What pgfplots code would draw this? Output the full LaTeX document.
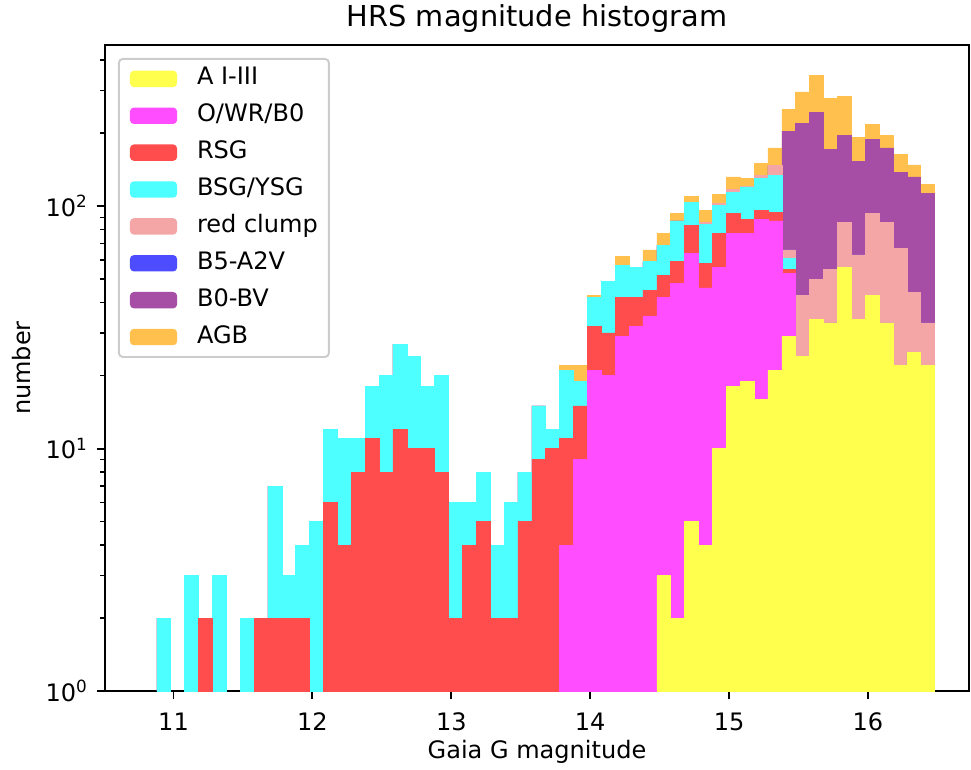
\documentclass[border=0pt]{standalone}
\usepackage{fontspec}
\setmainfont{DejaVu Sans}
\usepackage{pgfplots}
\usepackage{pgfplotstable}
\pgfplotsset{compat=1.18}

% fill colours: base colours seen through alpha 0.7 on white
\definecolor{cY}{RGB}{255,255,77}
\definecolor{cM}{RGB}{255,77,255}
\definecolor{cR}{RGB}{255,77,77}
\definecolor{cC}{RGB}{77,255,255}
\definecolor{cP}{RGB}{244,166,166}
\definecolor{cB}{RGB}{77,77,255}
\definecolor{cV}{RGB}{166,77,166}
\definecolor{cG}{RGB}{255,192,77}
\definecolor{frame}{RGB}{204,204,204}

% counts per 0.1 mag bin (x = bin centre)
% Y: A I-III, M: O/WR/B0, R: RSG, C: BSG/YSG, P: red clump,
% B: B5-A2V, V: B0-BV, G: AGB
\pgfplotstableread{
x     Y  M  R  C  P  B  V   G
10.93 0  0  0  2  0  0  0   0
11.03 0  0  0  0  0  0  0   0
11.13 0  0  0  3  0  0  0   0
11.23 0  0  2  0  0  0  0   0
11.33 0  0  0  3  0  0  0   0
11.43 0  0  0  0  0  0  0   0
11.53 0  0  0  2  0  0  0   0
11.63 0  0  2  0  0  0  0   0
11.73 0  0  2  5  0  0  0   0
11.83 0  0  2  1  0  0  0   0
11.93 0  0  2  2  0  0  0   0
12.03 0  0  0  5  0  0  0   0
12.13 0  0  6  6  0  0  0   0
12.23 0  0  4  7  0  0  0   0
12.33 0  0  8  3  0  0  0   0
12.43 0  0  11 7  0  0  0   0
12.53 0  0  8  12 0  0  0   0
12.63 0  0  12 15 0  0  0   0
12.73 0  0  10 14 0  0  0   0
12.83 0  0  10 8  0  0  0   0
12.93 0  0  8  12 0  0  0   0
13.03 0  0  2  4  0  0  0   0
13.13 0  0  4  2  0  0  0   0
13.23 0  0  5  3  0  0  0   0
13.33 0  0  2  2  0  0  0   0
13.43 0  0  2  4  0  0  0   0
13.53 0  0  5  3  0  0  0   0
13.63 0  0  9  6  0  0  0   0
13.73 0  0  10 2  0  0  0   0
13.83 0  4  7  10 0  0  0   1
13.93 0  9  6  4  0  0  0   3
14.03 0  21 11 10 0  0  0   1
14.13 0  20 10 19 0  0  0   0
14.23 0  29 13 15 0  0  0   5
14.33 0  32 10 14 0  0  0   0
14.43 0  35 10 14 0  0  0   7
14.53 3  39 10 17 0  0  0   8
14.63 2  46 11 28 0  0  0   6
14.73 5  59 19 21 0  0  0   6
14.83 4  42 12 26 2  0  0   10
14.93 10 46 21 24 2  0  0   9
15.03 18 59 16 21 3  0  0   15
15.13 19 58 11 32 1  0  0   9
15.23 16 72 8  34 4  0  0   16
15.33 21 66 7  40 13 0  0   27
15.43 29 24 2  6  5  0  137 48
15.53 24 0  0  0  19 0  177 76
15.63 34 0  0  0  16 0  193 102
15.73 33 0  0  0  22 0  117 106
15.83 56 0  0  0  30 0  110 87
15.93 34 0  0  0  29 0  90  39
16.03 43 0  0  0  50 0  96  28
16.13 33 0  0  0  53 0  88  22
16.23 22 0  0  0  45 0  71  25
16.33 25 0  0  0  19 0  88  16
16.43 22 0  0  0  11 0  80  10
}\counts

% running totals for the stacked histogram
\pgfplotstablecreatecol[create col/expr={\thisrow{Y}}]{sY}\counts
\pgfplotstablecreatecol[create col/expr={\thisrow{sY}+\thisrow{M}}]{sM}\counts
\pgfplotstablecreatecol[create col/expr={\thisrow{sM}+\thisrow{R}}]{sR}\counts
\pgfplotstablecreatecol[create col/expr={\thisrow{sR}+\thisrow{C}}]{sC}\counts
\pgfplotstablecreatecol[create col/expr={\thisrow{sC}+\thisrow{P}}]{sP}\counts
\pgfplotstablecreatecol[create col/expr={\thisrow{sP}+\thisrow{B}}]{sB}\counts
\pgfplotstablecreatecol[create col/expr={\thisrow{sB}+\thisrow{V}}]{sV}\counts
\pgfplotstablecreatecol[create col/expr={\thisrow{sV}+\thisrow{G}}]{sG}\counts

\begin{document}
\begin{tikzpicture}
\useasboundingbox (-43.70pt,-32.46pt) rectangle (360.43pt,287.63pt);
\begin{axis}[
  at={(0,0)}, anchor=south west,
  scale only axis, width=359.6pt, height=268.9pt,
  ymode=log, log origin y=infty,
  xmin=10.5065, xmax=16.728, ymin=1, ymax=462,
  xtick={11,12,13,14,15,16},
  ytick={1,10,100},
  yticklabels={10\textsuperscript{0},10\textsuperscript{1},10\textsuperscript{2}},
  minor ytick={2,3,4,5,6,7,8,9,20,30,40,50,60,70,80,90,200,300,400},
  tick pos=left, tick align=outside,
  major tick length=3.5pt, minor tick length=2pt,
  every tick/.style={black, line width=0.8pt},
  every minor tick/.style={black, line width=0.6pt},
  axis line style={line width=0.8pt},
  /pgf/number format/assume math mode=true,
  tick label style={font=\fontsize{10}{12}\selectfont},
  xticklabel style={yshift=-2pt},
  label style={font=\fontsize{10}{12}\selectfont},
  xlabel={Gaia G magnitude}, ylabel={number},
  xlabel style={at={(axis description cs:0.5,-0.1040)}, anchor=base},
  ylabel style={at={(axis description cs:-0.0961,0.5)}, anchor=center},
  title={HRS magnitude histogram},
  every axis title/.style={at={(axis description cs:0.5,1.0279)}, anchor=base,
    font=\fontsize{12}{14}\selectfont},
  bars/.style={ybar, bar width=0.1, bar shift=0pt, line width=0.25pt, forget plot},
  legend image code/.code={\fill[#1, fill opacity=1] (0pt,-3.4pt) rectangle (19.6pt,3.4pt);},
  legend cell align=left,
  legend style={at={(axis description cs:0,1)}, anchor=north west,
    xshift=5.4pt, yshift=-5.4pt,
    draw=frame, line width=0.8pt, rounded corners=1.6pt,
    fill=white, fill opacity=0.8, draw opacity=1, text opacity=1,
    inner xsep=4.6pt, inner ysep=2.0pt,
    row sep=2.75pt, column sep=8.3pt,
    font=\fontsize{10}{12}\selectfont,
    nodes={inner xsep=0pt, inner ysep=1.5pt, text height=7.3pt, text depth=2.3pt}},
]
% tallest running total first, each lower layer painted over it
\addplot[bars, fill=cG, draw=cG] table[x=x, y=sG] {\counts};
\addplot[bars, fill=cV, draw=cV] table[x=x, y=sV] {\counts};
\addplot[bars, fill=cB, draw=cB] table[x=x, y=sB] {\counts};
\addplot[bars, fill=cP, draw=cP] table[x=x, y=sP] {\counts};
\addplot[bars, fill=cC, draw=cC] table[x=x, y=sC] {\counts};
\addplot[bars, fill=cR, draw=cR] table[x=x, y=sR] {\counts};
\addplot[bars, fill=cM, draw=cM] table[x=x, y=sM] {\counts};
\addplot[bars, fill=cY, draw=cY] table[x=x, y=sY] {\counts};

\addlegendimage{fill=cY, draw=none}\addlegendentry{A I-III}
\addlegendimage{fill=cM, draw=none}\addlegendentry{O/WR/B0}
\addlegendimage{fill=cR, draw=none}\addlegendentry{RSG}
\addlegendimage{fill=cC, draw=none}\addlegendentry{BSG/YSG}
\addlegendimage{fill=cP, draw=none}\addlegendentry{red clump}
\addlegendimage{fill=cB, draw=none}\addlegendentry{B5-A2V}
\addlegendimage{fill=cV, draw=none}\addlegendentry{B0-BV}
\addlegendimage{fill=cG, draw=none}\addlegendentry{AGB}
\end{axis}
\end{tikzpicture}
\end{document}
